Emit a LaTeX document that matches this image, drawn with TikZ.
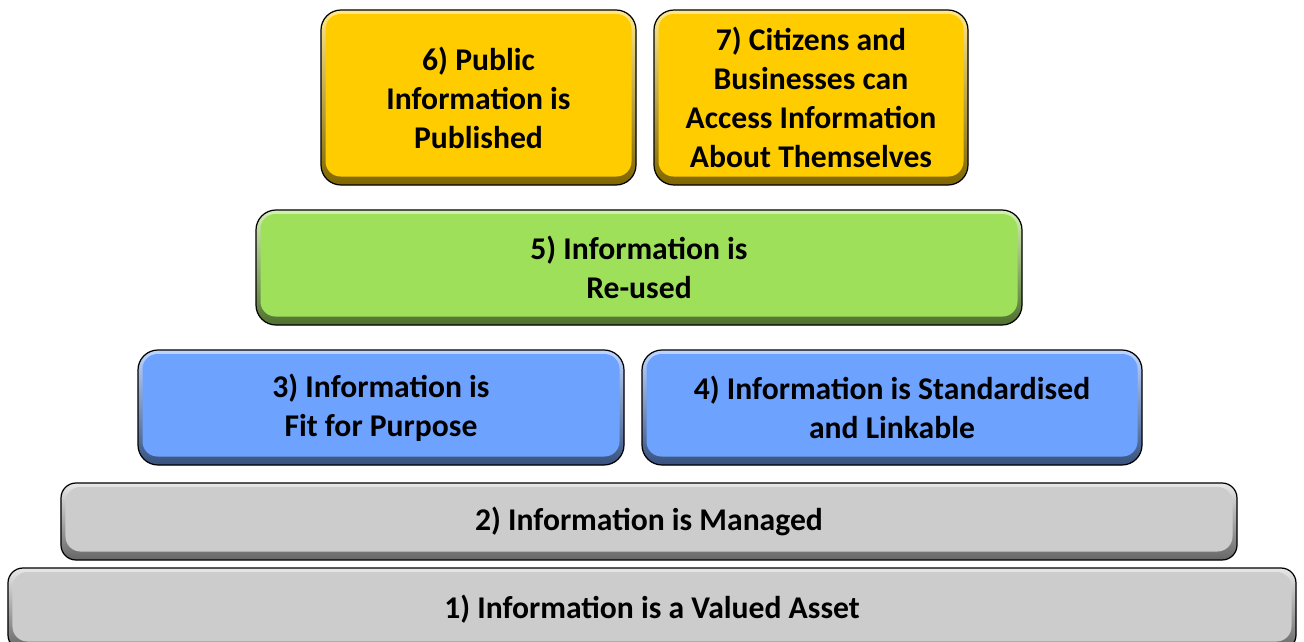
\documentclass[tikz,border=0pt]{standalone}
\usepackage{fontspec}
\setmainfont{Carlito}
\definecolor{tieryellow}{HTML}{FFCC00}
\definecolor{tiergreen}{HTML}{9EE05A}
\definecolor{tierblue}{HTML}{6EA2FF}
\definecolor{tiergray}{HTML}{CCCCCC}
\tikzset{
  tier/.style={rectangle, rounded corners=0.4cm, draw=black, line width=0.7pt, fill=#1,
    align=center, inner sep=0pt, font=\bfseries\fontsize{18}{22.2}\selectfont,
    path picture={
      \shade[top color=#1!45!white, bottom color=#1!50!black]
        (path picture bounding box.south west) rectangle (path picture bounding box.north east);
      \fill[#1, rounded corners=0.3cm]
        ([shift={(0.09,-0.08)}]path picture bounding box.north west) rectangle
        ([shift={(-0.09,0.17)}]path picture bounding box.south east);
    }},
  flat/.style={tier=#1, rounded corners=0.3cm}
}
\begin{document}
\begin{tikzpicture}
  \useasboundingbox (0,0) rectangle (26.08,-12.84);
  \begin{scope}
  \clip (0,0) rectangle (26.08,-12.84);
  % top tier
  \node (published) [tier=tieryellow, minimum width=6.3cm, minimum height=3.5cm] at (9.57,-1.95) {6) Public\\Information is\\Published};
  \node (access) [tier=tieryellow, minimum width=6.28cm, minimum height=3.5cm] at (16.22,-1.95) {7) Citizens and\\Businesses can\\Access Information\\About Themselves};
  % middle tiers
  \node (reused) [tier=tiergreen, minimum width=15.32cm, minimum height=2.3cm] at (12.78,-5.35) {5) Information is\\Re-used};
  \node (fit) [tier=tierblue, minimum width=9.72cm, minimum height=2.3cm] at (7.62,-8.15) {3) Information is\\Fit for Purpose};
  \node (linkable) [tier=tierblue, minimum width=10cm, minimum height=2.3cm] at (17.84,-8.15) {4) Information is Standardised\\and Linkable};
  % base tiers
  \node (managed) [flat=tiergray, minimum width=23.52cm, minimum height=1.54cm] at (12.98,-10.43) {2) Information is Managed};
  \node (asset) [flat=tiergray, minimum width=25.76cm, minimum height=1.64cm] at (13.04,-12.18) {1) Information is a Valued Asset};
  \end{scope}
\end{tikzpicture}
\end{document}
